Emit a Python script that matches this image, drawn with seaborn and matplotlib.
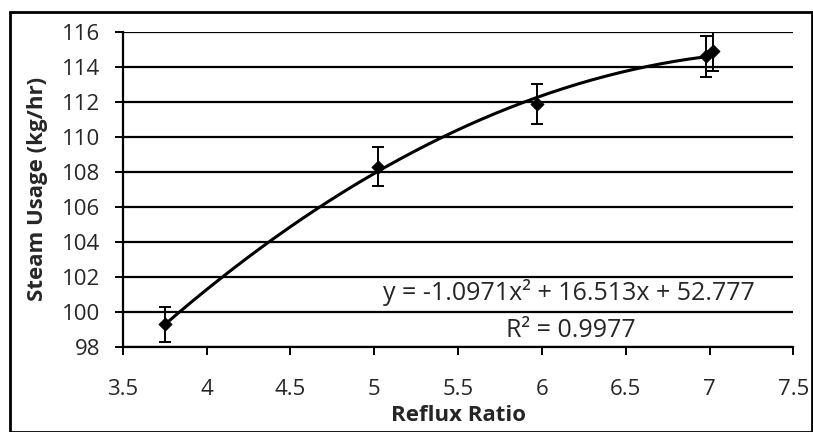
import numpy as np
import pandas as pd
import seaborn as sns
import matplotlib.pyplot as plt
from matplotlib.patches import Rectangle

reflux_ratio = [3.75, 5.02, 5.97, 6.98, 7.02]
steam_usage = [99.3, 108.3, 111.9, 114.6, 114.9]
steam_err = [1.0, 1.1, 1.15, 1.15, 1.15]

# trendline coefficients as printed on the chart
coef_a, coef_b, coef_c = -1.0971, 16.513, 52.777
x_ticks = [3.5, 4, 4.5, 5, 5.5, 6, 6.5, 7, 7.5]
y_ticks = [98, 100, 102, 104, 106, 108, 110, 112, 114, 116]

sns.set_style('white')
plt.rcParams['font.family'] = ['Open Sans', 'DejaVu Sans']

fig = plt.figure(figsize=(8.13, 4.32), dpi=100)
ax = fig.add_axes([0.151, 0.197, 0.825, 0.729])

# trend curve
curve_x = np.linspace(min(reflux_ratio), max(reflux_ratio), 200)
curve = pd.DataFrame({'x': curve_x,
                      'y': coef_a * curve_x ** 2 + coef_b * curve_x + coef_c})
sns.lineplot(data=curve, x='x', y='y', ax=ax, color='black', lw=2.2,
             zorder=3)

# points with error bars
ax.errorbar(reflux_ratio, steam_usage, yerr=steam_err, fmt='none',
            ecolor='black', elinewidth=1.4, capsize=4, capthick=1.4,
            zorder=4)
pts = pd.DataFrame({'x': reflux_ratio, 'y': steam_usage})
sns.scatterplot(data=pts, x='x', y='y', ax=ax, marker='D', s=45,
                color='black', edgecolor='black', zorder=5)

ax.set_xlim(3.5, 7.5)
ax.set_ylim(98, 116)
ax.set_xticks(x_ticks)
ax.set_xticklabels(['3.5', '4', '4.5', '5', '5.5', '6', '6.5', '7', '7.5'])
ax.set_yticks(y_ticks)
ax.yaxis.grid(True, color='black', lw=1.6)
ax.set_axisbelow(True)
ax.tick_params(axis='both', labelsize=16, direction='out', length=6,
               width=1.4, color='black', bottom=True, left=True)
ax.tick_params(axis='x', pad=17)
ax.tick_params(axis='y', pad=10)

for side in ['top', 'right']:
    ax.spines[side].set_visible(False)
for side in ['left', 'bottom']:
    ax.spines[side].set_color('black')
    ax.spines[side].set_linewidth(1.6)

ax.set_xlabel('Reflux Ratio', fontsize=16, fontweight='bold', labelpad=4)
ax.set_ylabel('Steam Usage (kg/hr)', fontsize=16, fontweight='bold',
              labelpad=10)

ax.text(6.16, 101.1, 'y = -1.0971x² + 16.513x + 52.777', fontsize=18,
        ha='center', va='center')
ax.text(6.17, 98.95, 'R² = 0.9977', fontsize=18, ha='center',
        va='center')

# outer frame around the chart area
fig.patches.append(Rectangle((0.012, 0.0), 0.987, 0.972,
                             transform=fig.transFigure, fill=False,
                             edgecolor='black', lw=2))

fig.savefig('out.png', dpi=100)
